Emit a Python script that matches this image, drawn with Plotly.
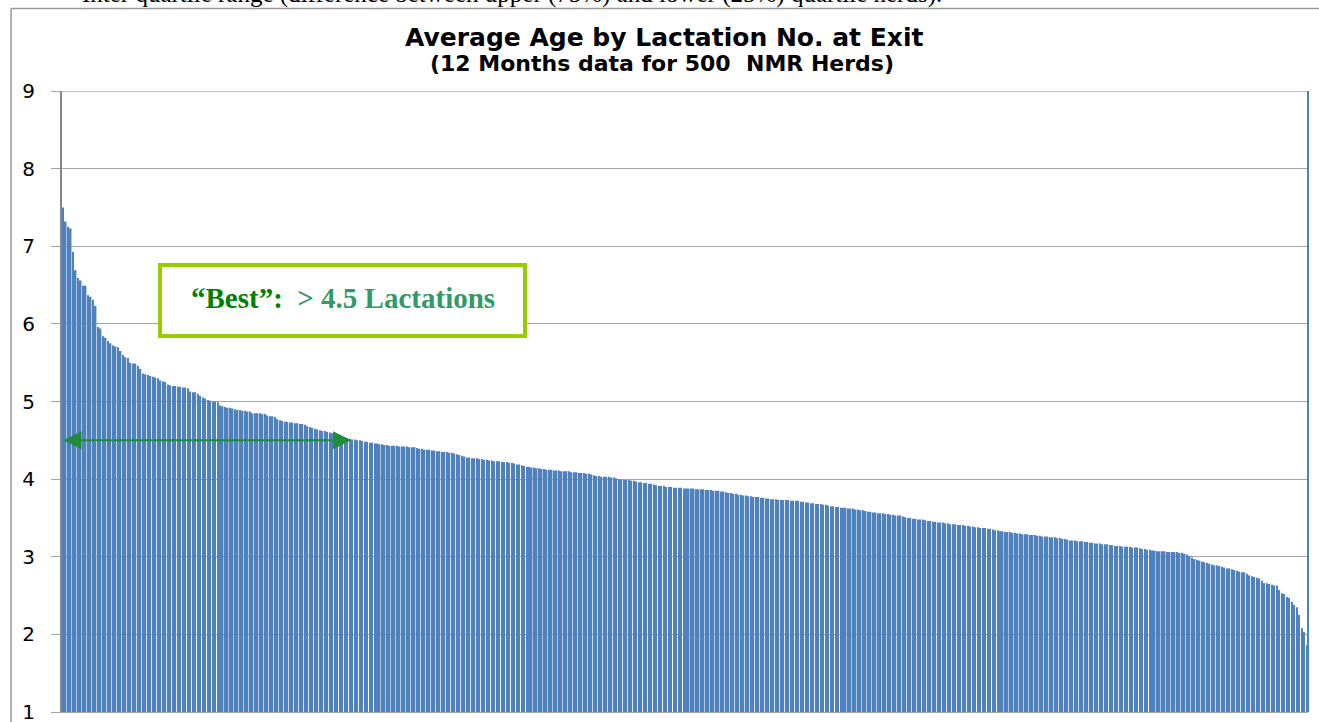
import plotly.graph_objects as go

# Average lactation number at exit, herds ranked from highest to lowest (500 herds)
ages_001_100 = [
    7.50, 7.32, 7.25, 7.23, 6.93, 6.69, 6.59, 6.56, 6.49, 6.49,
    6.37, 6.35, 6.31, 6.23, 5.96, 5.94, 5.84, 5.82, 5.78, 5.75,
    5.72, 5.71, 5.70, 5.65, 5.60, 5.57, 5.56, 5.50, 5.49, 5.49,
    5.46, 5.42, 5.36, 5.35, 5.34, 5.33, 5.32, 5.31, 5.30, 5.27,
    5.26, 5.25, 5.22, 5.21, 5.20, 5.20, 5.19, 5.19, 5.18, 5.18,
    5.17, 5.13, 5.12, 5.12, 5.10, 5.07, 5.05, 5.04, 5.02, 5.01,
    5.00, 5.00, 4.99, 4.95, 4.94, 4.93, 4.92, 4.92, 4.91, 4.90,
    4.89, 4.89, 4.88, 4.88, 4.87, 4.87, 4.85, 4.85, 4.85, 4.85,
    4.84, 4.84, 4.82, 4.81, 4.81, 4.80, 4.77, 4.76, 4.75, 4.74,
    4.74, 4.73, 4.73, 4.72, 4.72, 4.71, 4.71, 4.70, 4.68, 4.67,
]
ages_101_200 = [
    4.66, 4.65, 4.64, 4.63, 4.62, 4.62, 4.61, 4.60, 4.59, 4.58,
    4.57, 4.56, 4.55, 4.54, 4.53, 4.52, 4.51, 4.51, 4.50, 4.50,
    4.49, 4.48, 4.48, 4.47, 4.47, 4.46, 4.46, 4.45, 4.45, 4.44,
    4.44, 4.43, 4.43, 4.43, 4.43, 4.42, 4.42, 4.42, 4.42, 4.41,
    4.41, 4.41, 4.40, 4.39, 4.39, 4.38, 4.38, 4.38, 4.37, 4.37,
    4.36, 4.36, 4.35, 4.35, 4.35, 4.34, 4.34, 4.33, 4.32, 4.31,
    4.30, 4.29, 4.28, 4.28, 4.27, 4.27, 4.27, 4.26, 4.26, 4.25,
    4.25, 4.24, 4.24, 4.23, 4.23, 4.23, 4.22, 4.22, 4.22, 4.21,
    4.21, 4.20, 4.19, 4.19, 4.18, 4.17, 4.16, 4.16, 4.15, 4.15,
    4.14, 4.14, 4.13, 4.13, 4.12, 4.12, 4.12, 4.11, 4.11, 4.11,
]
ages_201_300 = [
    4.10, 4.10, 4.10, 4.10, 4.09, 4.09, 4.09, 4.08, 4.08, 4.08,
    4.07, 4.07, 4.06, 4.05, 4.04, 4.04, 4.03, 4.03, 4.03, 4.03,
    4.02, 4.02, 4.01, 4.00, 4.00, 3.99, 3.99, 3.99, 3.98, 3.98,
    3.97, 3.96, 3.96, 3.95, 3.95, 3.94, 3.94, 3.93, 3.92, 3.91,
    3.91, 3.91, 3.90, 3.90, 3.90, 3.89, 3.89, 3.89, 3.89, 3.88,
    3.88, 3.88, 3.88, 3.88, 3.87, 3.87, 3.87, 3.87, 3.86, 3.86,
    3.86, 3.85, 3.85, 3.85, 3.84, 3.84, 3.83, 3.82, 3.82, 3.81,
    3.81, 3.80, 3.80, 3.79, 3.79, 3.78, 3.78, 3.77, 3.77, 3.77,
    3.76, 3.76, 3.75, 3.75, 3.74, 3.74, 3.74, 3.73, 3.73, 3.73,
    3.73, 3.73, 3.72, 3.72, 3.72, 3.72, 3.71, 3.71, 3.70, 3.70,
]
ages_301_400 = [
    3.69, 3.69, 3.68, 3.68, 3.68, 3.67, 3.67, 3.66, 3.65, 3.65,
    3.64, 3.64, 3.63, 3.63, 3.63, 3.62, 3.62, 3.62, 3.61, 3.61,
    3.60, 3.60, 3.59, 3.58, 3.58, 3.57, 3.57, 3.56, 3.56, 3.56,
    3.55, 3.55, 3.54, 3.54, 3.53, 3.53, 3.53, 3.52, 3.51, 3.50,
    3.50, 3.49, 3.49, 3.48, 3.48, 3.48, 3.47, 3.46, 3.46, 3.45,
    3.45, 3.44, 3.44, 3.44, 3.43, 3.43, 3.42, 3.42, 3.42, 3.41,
    3.41, 3.41, 3.40, 3.40, 3.39, 3.39, 3.38, 3.38, 3.37, 3.37,
    3.37, 3.36, 3.36, 3.35, 3.34, 3.34, 3.33, 3.33, 3.32, 3.32,
    3.32, 3.31, 3.31, 3.30, 3.30, 3.29, 3.29, 3.29, 3.28, 3.28,
    3.28, 3.27, 3.27, 3.26, 3.26, 3.26, 3.25, 3.25, 3.25, 3.24,
]
ages_401_500 = [
    3.24, 3.23, 3.23, 3.22, 3.21, 3.21, 3.21, 3.20, 3.20, 3.20,
    3.19, 3.19, 3.18, 3.18, 3.17, 3.17, 3.17, 3.16, 3.16, 3.16,
    3.15, 3.15, 3.14, 3.14, 3.14, 3.13, 3.13, 3.13, 3.13, 3.12,
    3.12, 3.12, 3.11, 3.10, 3.10, 3.09, 3.09, 3.08, 3.08, 3.07,
    3.07, 3.07, 3.07, 3.06, 3.06, 3.06, 3.06, 3.06, 3.05, 3.05,
    3.04, 3.03, 3.01, 2.99, 2.97, 2.96, 2.95, 2.94, 2.93, 2.92,
    2.91, 2.90, 2.89, 2.89, 2.88, 2.87, 2.86, 2.85, 2.85, 2.84,
    2.83, 2.82, 2.81, 2.80, 2.80, 2.78, 2.76, 2.75, 2.74, 2.73,
    2.72, 2.69, 2.66, 2.66, 2.65, 2.64, 2.63, 2.63, 2.57, 2.53,
    2.52, 2.48, 2.47, 2.42, 2.38, 2.35, 2.25, 2.08, 2.03, 1.86,
]
avg_lactation = ages_001_100 + ages_101_200 + ages_201_300 + ages_301_400 + ages_401_500
herd_rank = list(range(1, len(avg_lactation) + 1))

y_ticks = [1, 2, 3, 4, 5, 6, 7, 8, 9]
best_threshold = 4.5
best_span_end = 116.5  # herd rank where the "best" arrow ends

title_text = "<b>Average Age by Lactation No. at Exit</b>"
subtitle_text = "<b>(12 Months data for 500&nbsp; NMR Herds)</b>"
doc_text = "Inter quartile range (difference between upper (75%) and lower (25%) quartile herds)."

W, H = 1319, 722
ML, MR, MT, MB = 62, 11, 91, 10
PW, PH = W - ML - MR, H - MT - MB


def px(xp):
    return (xp - ML) / PW


def py(yp):
    return (H - MB - yp) / PH


fig = go.Figure(
    go.Bar(
        x=herd_rank,
        y=avg_lactation,
        marker=dict(color="#4f81bd", line=dict(width=0)),
        hoverinfo="x+y",
    )
)

fig.update_layout(
    width=W,
    height=H,
    margin=dict(l=ML, r=MR, t=MT, b=MB, pad=0, autoexpand=False),
    plot_bgcolor="white",
    paper_bgcolor="white",
    bargap=0.4,
    showlegend=False,
    xaxis=dict(
        range=[0.5, len(avg_lactation) + 0.5],
        showticklabels=False,
        showgrid=False,
        zeroline=False,
        showline=True,
        linecolor="#a6a6a6",
        linewidth=1,
        ticks="",
        automargin=False,
    ),
    yaxis=dict(
        range=[1, 9],
        tickvals=y_ticks,
        showgrid=True,
        gridcolor="#a6a6a6",
        gridwidth=1,
        zeroline=False,
        showline=True,
        linecolor="#868686",
        linewidth=2,
        ticks="outside",
        ticklen=9,
        tickwidth=1,
        tickcolor="#a6a6a6",
        ticklabelstandoff=12,
        ticklabeloverflow="allow",
        automargin=False,
        tickfont=dict(family="DejaVu Sans", size=20, color="black"),
    ),
)

shapes = [
    # outer chart-area frame
    dict(type="line", xref="paper", yref="paper", x0=px(11), x1=px(11), y0=py(8.5), y1=py(730),
         line=dict(color="#9a9a9a", width=1.5)),
    dict(type="line", xref="paper", yref="paper", x0=px(11), x1=px(1330), y0=py(8.5), y1=py(8.5),
         line=dict(color="#9a9a9a", width=1.5)),
    # plot area top and right border
    dict(type="line", xref="paper", yref="y", x0=0, x1=1, y0=9, y1=9,
         line=dict(color="#95b3d7", width=1.5)),
    dict(type="line", xref="paper", yref="y", x0=1, x1=1, y0=1, y1=9,
         line=dict(color="#4f81bd", width=2)),
    # "Best" text box
    dict(type="rect", xref="paper", yref="paper", x0=px(160), x1=px(525), y0=py(336), y1=py(265),
         line=dict(color="#99cc00", width=4), fillcolor="white", layer="above"),
]
fig.update_layout(shapes=shapes)

annotations = [
    dict(text=title_text, xref="paper", yref="paper", x=px(664), y=py(37),
         xanchor="center", yanchor="middle", showarrow=False,
         font=dict(family="DejaVu Sans", size=25, color="black")),
    dict(text=subtitle_text, xref="paper", yref="paper", x=px(662), y=py(63),
         xanchor="center", yanchor="middle", showarrow=False,
         font=dict(family="DejaVu Sans", size=22, color="black")),
    dict(text=doc_text, xref="paper", yref="paper", x=px(80), y=1, yshift=MT - 10,
         xanchor="left", yanchor="bottom", showarrow=False,
         font=dict(family="Liberation Serif, Times New Roman, serif", size=25, color="black")),
    dict(text='<b><span style="color:#008000">“Best”:</span>&nbsp; '
              '<span style="color:#339966">&gt; 4.5 Lactations</span></b>',
         xref="paper", yref="paper", x=px(343), y=py(298),
         xanchor="center", yanchor="middle", showarrow=False,
         font=dict(family="Liberation Serif, Times New Roman, serif", size=29, color="#339966")),
    dict(text="", xref="x", yref="y", axref="x", ayref="y",
         x=best_span_end, y=best_threshold, ax=0.5, ay=best_threshold,
         showarrow=True, arrowside="end+start",
         arrowhead=2, startarrowhead=2, arrowsize=1.8, startarrowsize=1.8,
         arrowwidth=2, arrowcolor="#1f8b3b", standoff=0, startstandoff=0),
]
fig.update_layout(annotations=annotations)

fig.write_html(
    "out.html",
    config={"displayModeBar": False},
    post_script="document.body.style.margin='0px';",
)
